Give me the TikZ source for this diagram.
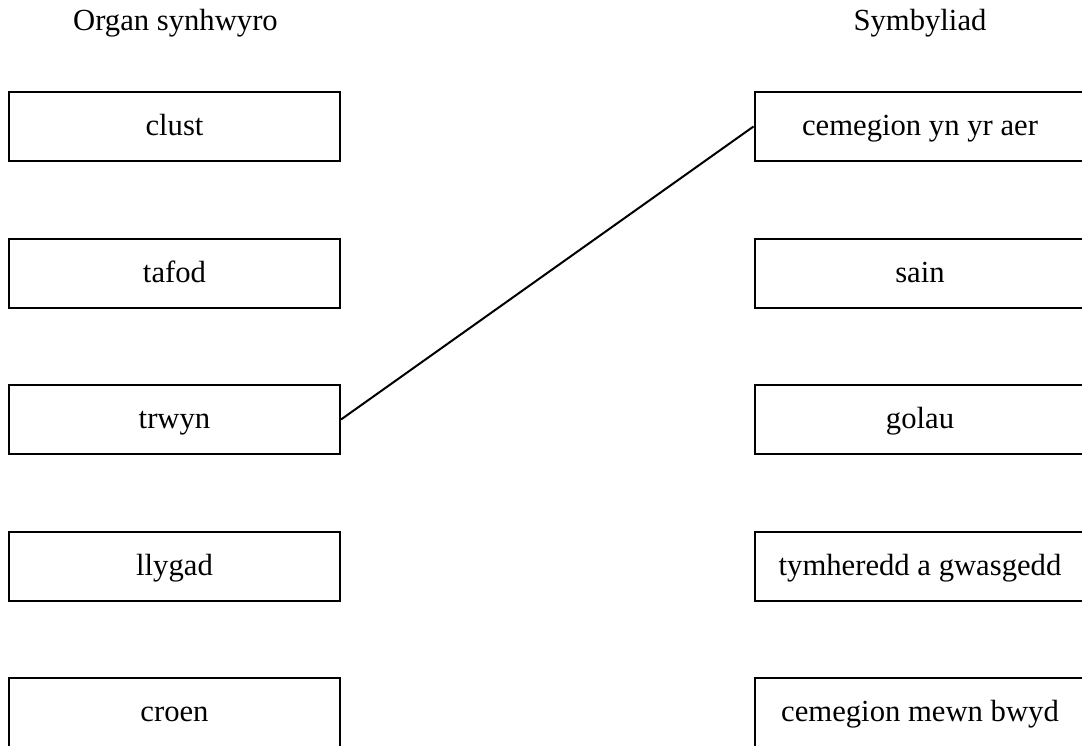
\documentclass[tikz,border=0pt]{standalone}
\usepackage{fontspec}
\setmainfont{Liberation Serif}
\usetikzlibrary{positioning}
\tikzset{%
	box/.style     = {draw, rectangle, line width=1.5pt, minimum width=248.25pt, minimum height=51.75pt, inner sep=0pt, text height=16pt, text depth=2.5pt}, % answer box
	heading/.style = {anchor=base, inner sep=0pt}, % column title
	link/.style    = {line width=1.5pt}, % matching line
}

\begin{document}
\begin{tikzpicture}[x=0.75pt, y=-0.75pt, node distance=109.875pt, font=\fontsize{23}{27}\selectfont]
	\useasboundingbox (0,0) rectangle (1082,746);
	\node[heading] (organ) at (175.5,31) {Organ synhwyro};
	\node[heading] (stim) at (920,30) {Symbyliad};
	% left column
	\node[box] (clust) at (174.5,126.5) {clust};
	\node[box,below of=clust] (tafod) {tafod};
	\node[box,below of=tafod] (trwyn) {trwyn};
	\node[box,below of=trwyn] (llygad) {llygad};
	\node[box,below of=llygad] (croen) {croen};
	% right column
	\node[box] (aer) at (920,126.5) {cemegion yn yr aer};
	\node[box,below of=aer] (sain) {sain};
	\node[box,below of=sain] (golau) {golau};
	\node[box,below of=golau] (gwasgedd) {tymheredd a gwasgedd};
	\node[box,below of=gwasgedd] (bwyd) {cemegion mewn bwyd};
	\draw[link] (trwyn.east) -- (aer.west);
\end{tikzpicture}
\end{document}
